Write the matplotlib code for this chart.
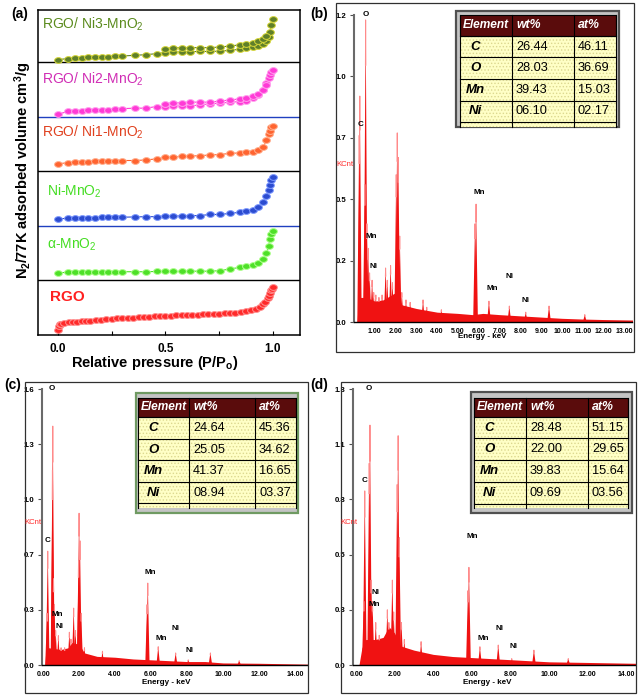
import numpy as np
import matplotlib
matplotlib.use('Agg')
import matplotlib.pyplot as plt
from matplotlib.patches import Rectangle
from matplotlib.path import Path

plt.rcParams['font.family'] = ['Liberation Sans', 'DejaVu Sans']
plt.rcParams['mathtext.default'] = 'regular'
plt.rcParams['hatch.linewidth'] = 0.6

# ---------------- data: panel (a) N2 isotherms (local strip units) ----------------
iso_x = [0.0, 0.048, 0.079, 0.11, 0.141, 0.172, 0.203, 0.234, 0.265, 0.296, 0.358, 0.408,
         0.459, 0.50, 0.536, 0.575, 0.614, 0.66, 0.707, 0.753, 0.80, 0.846, 0.877, 0.908,
         0.932, 0.955, 0.97, 0.98, 0.986, 0.992, 1.0]
ni3_ads = [0.05, 0.07, 0.08, 0.085, 0.09, 0.095, 0.10, 0.105, 0.11, 0.115, 0.13, 0.14, 0.16,
           0.18, 0.19, 0.19, 0.195, 0.20, 0.20, 0.205, 0.22, 0.24, 0.26, 0.28, 0.30, 0.34,
           0.40, 0.47, 0.55, 0.68, 0.80]
ni2_ads = [0.05, 0.10, 0.11, 0.115, 0.12, 0.125, 0.13, 0.135, 0.14, 0.15, 0.16, 0.16, 0.19,
           0.18, 0.20, 0.20, 0.20, 0.22, 0.24, 0.25, 0.27, 0.28, 0.30, 0.34, 0.40, 0.50,
           0.62, 0.71, 0.77, 0.83, 0.86]
ni1_ads = [0.14, 0.16, 0.17, 0.175, 0.18, 0.185, 0.19, 0.19, 0.195, 0.20, 0.20, 0.21, 0.23,
           0.26, 0.26, 0.28, 0.28, 0.29, 0.30, 0.31, 0.33, 0.34, 0.35, 0.36, 0.40, 0.45,
           0.57, 0.69, 0.75, 0.81, 0.84]
nimn_ads = [0.13, 0.14, 0.145, 0.15, 0.15, 0.15, 0.155, 0.155, 0.16, 0.16, 0.165, 0.17, 0.17,
            0.18, 0.18, 0.185, 0.19, 0.19, 0.21, 0.21, 0.23, 0.25, 0.28, 0.30, 0.35, 0.44,
            0.55, 0.66, 0.75, 0.84, 0.89]
amn_ads = [0.14, 0.15, 0.155, 0.155, 0.16, 0.16, 0.16, 0.16, 0.16, 0.16, 0.16, 0.16, 0.165,
           0.165, 0.165, 0.165, 0.17, 0.17, 0.17, 0.18, 0.21, 0.24, 0.26, 0.28, 0.32, 0.39,
           0.51, 0.63, 0.76, 0.85, 0.91]
des_x = [0.50, 0.536, 0.575, 0.614, 0.66, 0.707, 0.753, 0.80, 0.846, 0.877, 0.908, 0.932, 0.955, 0.97]
ni3_des = [0.25, 0.27, 0.27, 0.27, 0.27, 0.27, 0.28, 0.30, 0.32, 0.34, 0.36, 0.39, 0.43, 0.48]
ni2_des = [0.24, 0.26, 0.26, 0.27, 0.27, 0.27, 0.29, 0.31, 0.33, 0.35, 0.38, 0.42, 0.50, 0.58]
rgo_x = [0, 0.003, 0.008, 0.015, 0.03, 0.05, 0.07, 0.09, 0.11, 0.13, 0.15, 0.175, 0.2, 0.225,
         0.25, 0.275, 0.3, 0.325, 0.35, 0.375, 0.4, 0.425, 0.45, 0.475, 0.5, 0.525, 0.55,
         0.575, 0.6, 0.625, 0.65, 0.675, 0.7, 0.725, 0.75, 0.775, 0.8, 0.825, 0.85, 0.875,
         0.9, 0.92, 0.94, 0.955, 0.965, 0.975, 0.982, 0.988, 0.993, 0.997, 1.0]
rgo_ads = [0.10, 0.17, 0.20, 0.21, 0.22, 0.23, 0.24, 0.245, 0.25, 0.26, 0.265, 0.27, 0.28,
           0.29, 0.30, 0.305, 0.31, 0.315, 0.32, 0.325, 0.33, 0.335, 0.34, 0.345, 0.35,
           0.355, 0.36, 0.36, 0.365, 0.37, 0.375, 0.38, 0.385, 0.39, 0.39, 0.395, 0.40,
           0.41, 0.42, 0.435, 0.45, 0.48, 0.52, 0.56, 0.61, 0.67, 0.72, 0.77, 0.82, 0.85, 0.88]
iso_names = ['RGO', 'α-MnO$_2$', 'Ni-MnO$_2$', 'RGO/ Ni1-MnO$_2$', 'RGO/ Ni2-MnO$_2$', 'RGO/ Ni3-MnO$_2$']
a_xticks = [0.0, 0.5, 1.0]
a_xticklabels = ['0.0', '0.5', '1.0']

# ---------------- data: EDS spectra ----------------
b_bg_e = [0.15, 0.18, 0.3, 0.6, 1.0, 1.4, 1.6, 2.0, 2.3, 3.0, 4.0, 5.0, 5.7, 6.2, 7.0, 8.0, 9.0, 10.0, 11.0, 12.0, 13.4]
b_bg_v = [0.0, 0.05, 0.10, 0.10, 0.085, 0.09, 0.10, 0.12, 0.07, 0.055, 0.04, 0.035, 0.03, 0.035, 0.03, 0.025, 0.02, 0.015, 0.012, 0.01, 0.008]
b_pk_e = [0.25, 0.28, 0.52, 0.56, 0.62, 0.68, 0.75, 0.87, 0.95, 1.05, 1.2, 1.35, 1.52, 1.6, 1.76, 1.85,
          2.03, 2.08, 2.13, 2.2, 2.3, 2.5, 2.7, 3.32, 3.5, 4.2, 5.82, 5.87, 6.49, 7.47, 8.26, 9.38, 11.1]
b_pk_v = [0.76, 0.92, 0.56, 1.23, 0.40, 0.30, 0.20, 0.17, 0.12, 0.11, 0.10, 0.11, 0.22, 0.17, 0.23, 0.16,
          0.60, 0.77, 0.67, 0.35, 0.12, 0.09, 0.08, 0.09, 0.06, 0.05, 0.40, 0.48, 0.085, 0.065, 0.04, 0.065, 0.03]
c_bg_e = [0.1, 0.15, 0.3, 1.0, 1.4, 1.6, 2.0, 2.3, 3.0, 4.0, 5.0, 6.0, 7.0, 8.0, 9.0, 10.0, 12.0, 14.7]
c_bg_v = [0.0, 0.08, 0.10, 0.09, 0.10, 0.13, 0.12, 0.07, 0.05, 0.045, 0.035, 0.03, 0.025, 0.02, 0.02, 0.012, 0.01, 0.005]
c_pk_e = [0.22, 0.26, 0.52, 0.54, 0.58, 0.63, 0.70, 0.85, 1.0, 1.2, 1.46, 1.55, 1.70, 1.80, 1.97, 2.00,
          2.05, 2.12, 2.3, 3.3, 5.78, 5.82, 6.40, 7.37, 8.07, 9.30, 10.9]
c_pk_v = [0.30, 0.66, 1.13, 1.385, 0.50, 0.35, 0.20, 0.17, 0.10, 0.10, 0.19, 0.15, 0.33, 0.20, 0.60, 0.88,
          0.72, 0.30, 0.10, 0.08, 0.35, 0.475, 0.106, 0.07, 0.03, 0.07, 0.025]
d_bg_e = [0.15, 0.3, 0.5, 1.0, 1.4, 1.7, 2.0, 2.3, 3.0, 4.0, 5.0, 6.0, 7.0, 8.0, 9.0, 10.0, 12.0, 14.5]
d_bg_v = [0.0, 0.08, 0.12, 0.12, 0.13, 0.18, 0.15, 0.09, 0.07, 0.05, 0.04, 0.035, 0.03, 0.025, 0.02, 0.015, 0.012, 0.008]
d_pk_e = [0.40, 0.45, 0.68, 0.72, 0.78, 0.85, 1.02, 1.2, 1.62, 1.70, 1.88, 1.95, 2.13, 2.18, 2.24, 2.35,
          2.5, 3.37, 5.80, 5.85, 6.42, 7.37, 8.07, 9.22, 11.0]
d_pk_v = [0.30, 0.82, 0.95, 1.13, 0.40, 0.30, 0.20, 0.14, 0.26, 0.20, 0.40, 0.25, 0.85, 1.08, 0.60, 0.20,
          0.12, 0.11, 0.35, 0.46, 0.086, 0.094, 0.03, 0.07, 0.03]
b_ytl = ['0.0', '0.2', '0.5', '0.7', '1.0', '1.2']
c_ytl = ['0.0', '0.3', '0.7', '1.0', '1.3', '1.6']
d_ytl = ['0.0', '0.3', '0.5', '0.8', '1.1', '1.3']
b_xt = list(range(1, 14))
cd_xt = [0, 2, 4, 6, 8, 10, 12, 14]

# ---------------- data: composition tables ----------------
elements = ['C', 'O', 'Mn', 'Ni']
b_wt = ['26.44', '28.03', '39.43', '06.10']
b_at = ['46.11', '36.69', '15.03', '02.17']
c_wt = ['24.64', '25.05', '41.37', '08.94']
c_at = ['45.36', '34.62', '16.65', '03.37']
d_wt = ['28.48', '22.00', '39.83', '09.69']
d_at = ['51.15', '29.65', '15.64', '03.56']

# ---------------- figure ----------------
W, H = 638, 695
fig = plt.figure(figsize=(W / 100, H / 100), dpi=100)


def box(x0, y0, x1, y1):
    return [x0 / W, 1 - y1 / H, (x1 - x0) / W, (y1 - y0) / H]


# ---- panel (a)
axa = fig.add_axes(box(38, 10, 300, 335))
axa.set_xlim(-0.093, 1.126)
axa.set_ylim(0, 5.96)
th = np.linspace(0, 2 * np.pi, 40)
ell = Path(np.column_stack([1.35 * np.cos(th), np.sin(th)]), closed=True)

series = [
    (rgo_x, rgo_ads, None, None, '#ff2a2a', '#ff9090'),
    (iso_x, amn_ads, None, None, '#4ee028', '#b0ff90'),
    (iso_x, nimn_ads, None, None, '#2c4cd0', '#7f9aff'),
    (iso_x, ni1_ads, None, None, '#ff6430', '#ffb090'),
    (iso_x, ni2_ads, des_x, ni2_des, '#ff3ad6', '#ffa0ee'),
    (iso_x, ni3_ads, des_x, ni3_des, '#5f7f2a', '#d8d838'),
]
for i, (xs, ys, dx, dy, c, ec) in enumerate(series):
    yy = np.asarray(ys) + i
    axa.plot(xs, yy, '-', color=c, lw=0.8, marker=ell, ms=5.6, mfc=c, mec=ec, mew=0.7, zorder=3)
    if dx is not None:
        axa.plot(dx, np.asarray(dy) + i, '-', color=c, lw=0.8, marker=ell, ms=5.6,
                 mfc=c, mec=ec, mew=0.7, zorder=3)

sep_colors = ['black', '#2040c0', 'black', '#2040c0', 'black']
for k, sc in enumerate(sep_colors):
    axa.axhline(k + 1, color=sc, lw=1.0, zorder=2)

text_cols = ['#ff2020', '#44dd22', '#44dd22', '#e0401e', '#d02cb4', '#5a8a1c']
text_pos = [(-0.037, 0.70), (-0.051, 1.65), (-0.051, 2.64), (-0.074, 3.71), (-0.074, 4.68), (-0.074, 5.69)]
for i, name in enumerate(iso_names):
    axa.text(text_pos[i][0], text_pos[i][1], name, color=text_cols[i], va='center', ha='left',
             fontsize=11 if i == 0 else 10, fontweight='bold' if i == 0 else 'normal')

axa.set_yticks([])
axa.set_xticks(a_xticks)
axa.set_xticklabels(a_xticklabels, fontweight='bold', fontsize=8.5)
axa.set_xticks([0.25, 0.75], minor=True)
axa.tick_params(axis='x', which='both', direction='in', length=3, width=0.8, pad=6)
for s in axa.spines.values():
    s.set_linewidth(1.1)

fig.text(155 / W, 1 - 363 / H, 'Relative pressure (P/P$_o$)', ha='center', va='center',
         fontsize=10.5, fontweight='bold')
fig.text(23 / W, 1 - 170 / H, 'N$_2$/77K adsorbed volume cm$^3$/g', ha='center', va='center',
         rotation=90, fontsize=10.5, fontweight='bold')

RED = '#f01212'
PINK = '#ff8a8a'


def eds(rect, xlim, ymax, ytl, xt, bg_e, bg_v, pk_e, pk_v, w):
    ax = fig.add_axes(box(*rect))
    ax.set_xlim(*xlim)
    ax.set_ylim(0, ymax)
    ax.fill_between(bg_e, 0, bg_v, color=RED, lw=0)
    for e, v in zip(pk_e, pk_v):
        ax.fill([e - w, e - w * 0.25, e, e + w * 0.25, e + w], [0, v * 0.75, v, v * 0.75, 0], color=RED, lw=0)
        ax.plot([e - w * 0.12, e, e + w * 0.12], [v * 0.85, v, v * 0.85], color=PINK, lw=0.7)
    ax.set_yticks(np.linspace(0, ymax, 6))
    ax.set_yticklabels(ytl)
    ax.set_xticks(xt)
    ax.set_xticklabels(['%.2f' % t for t in xt])
    for lab in ax.get_yticklabels():
        lab.set_fontweight('bold')
        lab.set_fontsize(5.6)
    for lab in ax.get_xticklabels():
        lab.set_fontweight('bold')
        lab.set_fontsize(5.0)
    ax.tick_params(axis='y', direction='out', length=3, width=0.8, color='#505050', pad=2.5)
    ax.tick_params(axis='x', length=0, pad=4)
    ax.spines['top'].set_visible(False)
    ax.spines['right'].set_visible(False)
    ax.spines['left'].set_color('#6a6a6a')
    ax.spines['left'].set_linewidth(1.5)
    ax.spines['bottom'].set_linewidth(1.0)
    return ax


eds((354, 15, 632, 322), (0, 13.37), 1.25, b_ytl, b_xt, b_bg_e, b_bg_v, b_pk_e, b_pk_v, 0.09)
eds((42, 389, 307, 665), (-0.06, 14.67), 1.6, c_ytl, cd_xt, c_bg_e, c_bg_v, c_pk_e, c_pk_v, 0.10)
eds((353, 389, 635, 665), (-0.16, 14.46), 1.3, d_ytl, cd_xt, d_bg_e, d_bg_v, d_pk_e, d_pk_v, 0.10)

# ---- overlay in pixel coordinates
ov = fig.add_axes([0, 0, 1, 1], zorder=10)
ov.set_xlim(0, W)
ov.set_ylim(H, 0)
ov.axis('off')
ov.patch.set_alpha(0)

for fr in [(336, 3, 634, 352), (25, 382, 308, 693), (341, 382, 636, 693)]:
    ov.add_patch(Rectangle((fr[0], fr[1]), fr[2] - fr[0], fr[3] - fr[1], fc='none', ec='#303030', lw=0.9))

for s, x, y in [('(a)', 20, 14), ('(b)', 319, 14), ('(c)', 13, 385), ('(d)', 319, 385)]:
    ov.text(x, y, s, ha='center', va='center', fontsize=10, fontweight='bold')

peak_labels = [
    [('O', 366, 15), ('C', 361, 124), ('Mn', 371, 237), ('Ni', 373, 267), ('Mn', 479, 192),
     ('Mn', 492, 289), ('Ni', 510, 277), ('Ni', 526, 300)],
    [('O', 52, 389), ('C', 48, 540), ('Mn', 57, 614), ('Ni', 59, 626), ('Mn', 150, 572),
     ('Mn', 161, 638), ('Ni', 176, 629), ('Ni', 190, 650)],
    [('O', 369, 389), ('C', 365, 480), ('Ni', 375, 593), ('Mn', 374, 604), ('Mn', 472, 537),
     ('Mn', 483, 638), ('Ni', 499, 628), ('Ni', 513, 647)],
]
for group in peak_labels:
    for s, x, y in group:
        ov.text(x, y, s, ha='center', va='center', fontsize=5.8, fontweight='bold')

for x, y in [(345, 164), (33, 523), (349, 523)]:
    ov.text(x, y, 'KCnt', ha='center', va='center', fontsize=5.6, color='#ff2a2a')
for x, y in [(482, 337), (166, 683), (487, 683)]:
    ov.text(x, y, 'Energy - keV', ha='center', va='center', fontsize=5.8, fontweight='bold')


def table(x0, x1, c1, c2, ytop, hh, rh, frame, fcol, wts, ats):
    n = len(elements)
    ybody = ytop + hh
    ybot = ybody + rh * n + 4.5
    ov.add_patch(Rectangle((frame[0], frame[1]), frame[2] - frame[0], frame[3] - frame[1],
                           fc='#c4c4c4', ec=fcol, lw=1.6))
    ov.add_patch(Rectangle((x0, ybody), x1 - x0, ybot - ybody, fc='#ffffc6', ec='none'))
    ov.add_patch(Rectangle((x0, ybody), x1 - x0, ybot - ybody, fc='none', ec='#dcd890', lw=0, hatch='.....'))
    ov.add_patch(Rectangle((x0, ytop), x1 - x0, hh, fc='#5a0c0c', ec='black', lw=0.8))
    for k in range(n + 1):
        ov.plot([x0, x1], [ybody + k * rh] * 2, color='black', lw=0.8)
    for xc in (x0, c1, c2, x1):
        ov.plot([xc, xc], [ytop, ybot], color='black', lw=0.8)
    hy = ytop + hh / 2
    ov.text((x0 + c1) / 2, hy, 'Element', color='white', ha='center', va='center', fontsize=8.6,
            fontweight='bold', style='italic')
    ov.text(c1 + 4, hy, 'wt%', color='white', ha='left', va='center', fontsize=8.8,
            fontweight='bold', style='italic')
    ov.text(c2 + 4, hy, 'at%', color='white', ha='left', va='center', fontsize=8.8,
            fontweight='bold', style='italic')
    for k in range(n):
        ry = ybody + (k + 0.5) * rh
        ov.text(x0 + 15, ry, elements[k], ha='center', va='center', fontsize=9.5,
                fontweight='bold', style='italic')
        ov.text(c1 + 4, ry, wts[k], ha='left', va='center', fontsize=9.2)
        ov.text(c2 + 4, ry, ats[k], ha='left', va='center', fontsize=9.2)


table(460, 616, 512, 574, 15, 20.7, 21.6, (456, 11, 619, 127), '#505050', b_wt, b_at)
table(138, 296, 189, 255, 397.7, 19.6, 21.5, (136, 393, 298, 513), '#6f9a62', c_wt, c_at)
table(474, 628, 526, 588, 397.7, 19.0, 21.7, (470.5, 391.5, 632, 513), '#505050', d_wt, d_at)

fig.savefig('out.png', dpi=100)
